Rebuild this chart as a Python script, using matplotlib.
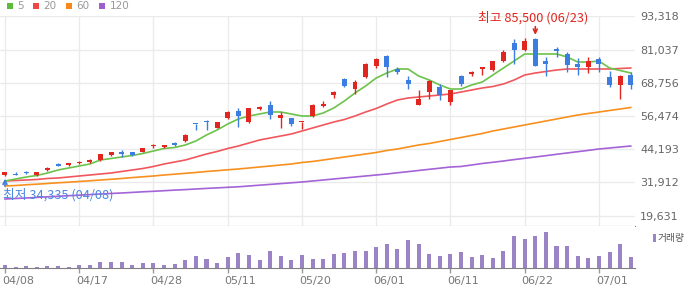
"""Daily candlestick chart with moving averages and a volume panel."""

import matplotlib

matplotlib.use("Agg")
import matplotlib.pyplot as plt
from matplotlib.patches import Rectangle
from matplotlib.ticker import FuncFormatter
from matplotlib.transforms import ScaledTranslation

KR_FONT = ["Noto Sans CJK KR", "DejaVu Sans"]

UP_COLOR = "#e0261f"
DOWN_COLOR = "#3b7de0"
VOLUME_COLOR = "#9b84c6"
GRID_COLOR = "#ebebeb"

# OHLC, one entry per trading day (04/08 .. 07/03)
OPENS = [34670, 35200, 35780, 34600, 36520, 38740, 38370, 39110, 39480, 40220,
         42070, 43100, 43300, 43180, 45400, 44900, 46500, 47250, 53540, 54500,
         52060, 55880, 58350, 54280, 59100, 60570, 55760, 55760, 54100, 56500,
         60200, 64270, 70190, 66490, 70930, 75000, 78700, 73890, 69820, 60570,
         65380, 67230, 61680, 71300, 72040, 74000, 73520, 76850, 83510, 80920,
         85000, 76850, 81300, 79440, 75740, 74630, 77590, 70930, 67970, 71670]
HIGHS = [35950, 35600, 36000, 35800, 37750, 39100, 39110, 39850, 40600, 42440,
         43180, 43900, 43300, 44770, 46140, 45800, 46900, 49900, 53600, 54900,
         54450, 58500, 59460, 59460, 60200, 62050, 57980, 55900, 54300, 60940,
         62050, 65750, 70560, 69820, 76110, 77960, 79070, 74630, 71300, 66120,
         69820, 68340, 66120, 71670, 73150, 74630, 77000, 80920, 85000, 85360,
         85500, 78330, 82000, 80180, 77960, 78330, 78330, 73150, 71670, 72780]
LOWS = [34335, 34500, 35150, 34450, 36270, 37900, 38000, 38740, 39110, 40000,
        41800, 41450, 41700, 43000, 44770, 44700, 45400, 46880, 51320, 51300,
        52060, 55400, 52430, 54000, 58900, 55390, 52060, 52800, 51600, 56130,
        59830, 63160, 67230, 64640, 70560, 74260, 70930, 72040, 66490, 60570,
        62790, 62420, 60570, 67600, 71300, 71670, 73300, 76480, 75740, 80550,
        75000, 71300, 78330, 72780, 71670, 72410, 72780, 67230, 62790, 66490]
CLOSES = [35780, 34700, 35400, 35750, 37260, 38000, 38930, 39300, 40220, 42440,
          43180, 42350, 42070, 44660, 45770, 45770, 45600, 49650, 53400, 54200,
          54400, 58100, 56500, 59460, 59830, 56870, 56870, 53540, 54280, 60570,
          60940, 65380, 67600, 69080, 75740, 77590, 74630, 72780, 68340, 62790,
          69450, 64270, 66120, 68340, 72780, 74600, 76850, 80180, 80920, 84250,
          75000, 75740, 80550, 75370, 74630, 76850, 75740, 67970, 71300, 67970]

MA5 = [32450, 33190, 33930, 34490, 35410, 36520, 37260, 38000, 38740, 40220,
       40780, 41330, 41890, 42630, 43550, 44480, 44850, 45770, 47250, 49470,
       51320, 53540, 55390, 56500, 57240, 57980, 57980, 57240, 56500, 56500,
       57610, 59460, 62050, 65010, 67600, 70560, 72410, 73890, 73890, 71300,
       69820, 67970, 66490, 66490, 67970, 69080, 71670, 74260, 76850, 79440,
       79440, 79440, 79440, 78330, 76480, 76480, 76850, 74260, 73340, 72410]
MA20 = [32450, 32640, 32820, 33010, 33380, 33560, 33930, 34300, 34670, 35040,
        35410, 35970, 36520, 37080, 37820, 38740, 39480, 40220, 41330, 42440,
        43370, 44480, 45400, 46510, 47620, 48360, 49100, 49840, 50950, 52060,
        53170, 54280, 55210, 56500, 57980, 59280, 60940, 62420, 63160, 63530,
        63900, 64270, 64640, 65380, 66120, 66860, 67420, 68340, 69820, 71670,
        72410, 72970, 73520, 73890, 73890, 73890, 73890, 73890, 74080, 74260]
MA60 = [30600, 30790, 31050, 31270, 31530, 31790, 32010, 32270, 32530, 32820,
        33080, 33380, 33710, 34010, 34300, 34670, 34970, 35300, 35600, 35970,
        36260, 36600, 36890, 37260, 37630, 38000, 38370, 38740, 39300, 39670,
        40220, 40780, 41330, 41890, 42440, 43000, 43740, 44290, 45030, 45770,
        46330, 47070, 47810, 48550, 49290, 50030, 50950, 51690, 52430, 53170,
        53910, 54650, 55390, 56130, 56870, 57430, 57980, 58540, 59090, 59650]
MA120 = [25790, 25980, 26160, 26380, 26610, 26790, 27010, 27200, 27420, 27640,
         27830, 28010, 28230, 28460, 28640, 28860, 29080, 29270, 29490, 29710,
         29900, 30120, 30310, 30600, 30900, 31190, 31490, 31790, 32080, 32450,
         32820, 33190, 33560, 33930, 34300, 34670, 35040, 35490, 35900, 36340,
         36780, 37190, 37630, 37820, 38370, 38930, 39370, 39850, 40370, 40850,
         41330, 41820, 42330, 42820, 43300, 43780, 44290, 44660, 45030, 45400]

# relative traded volume
VOLUMES = [3, 1, 2, 1, 2, 2, 1, 3, 3, 6, 6, 6, 3, 5, 5, 3, 4, 8, 12, 9,
           5, 11, 15, 13, 8, 17, 12, 8, 13, 9, 9, 14, 15, 17, 17, 21, 24, 19, 28, 24,
           14, 12, 14, 16, 11, 13, 10, 17, 32, 29, 32, 36, 22, 22, 12, 10, 12, 16, 24, 11]

TICK_INDEX = [0, 7, 14, 21, 28, 35, 42, 49, 56]
TICK_LABELS = ["04/08", "04/17", "04/28", "05/11", "05/20", "06/01", "06/11", "06/22", "07/01"]
PRICE_TICKS = [19631, 31912, 44193, 56474, 68756, 81037, 93318]

MA_LABELS = ["5", "20", "60", "120"]
MA_COLORS = ["#6cc24a", "#f0575d", "#f7901e", "#a463d6"]
LEGEND_COLORS = ["#5dbb3b", "#ef4646", "#f7891c", "#9b5fcf"]

HIGH_INDEX, HIGH_TEXT = 50, "최고 85,500 (06/23)"
LOW_INDEX, LOW_TEXT = 0, "최저 34,335 (04/08)"


def draw_price_panel(ax, x):
    for values, color in zip([MA120, MA60, MA20, MA5], MA_COLORS[::-1]):
        ax.plot(x, values, color=color, linewidth=1.2, zorder=2)

    colors = [UP_COLOR if c >= o else DOWN_COLOR for o, c in zip(OPENS, CLOSES)]
    bottoms = [min(o, c) for o, c in zip(OPENS, CLOSES)]
    heights = [max(abs(c - o), 370) for o, c in zip(OPENS, CLOSES)]
    ax.vlines(x, LOWS, HIGHS, colors=colors, linewidth=1, zorder=3)
    ax.bar(x, heights, width=0.47, bottom=bottoms, color=colors, linewidth=0, zorder=4)

    ax.set_ylim(15800, 93500)
    ax.set_yticks(PRICE_TICKS)
    ax.yaxis.tick_right()
    ax.yaxis.set_major_formatter(FuncFormatter(lambda v, _: f"{v:,.0f}"))
    ax.tick_params(axis="y", length=0, pad=3.6, labelsize=8, labelcolor="#666666")
    ax.tick_params(axis="x", length=0, labelbottom=False)
    ax.grid(color=GRID_COLOR, linewidth=1)
    ax.set_axisbelow(True)
    for side in ("top", "left", "right"):
        ax.spines[side].set_visible(False)
    ax.spines["bottom"].set_color("#808080")

    # high / low markers
    ax.annotate("", xy=(HIGH_INDEX, HIGHS[HIGH_INDEX]), xytext=(0, 11),
                textcoords="offset pixels",
                arrowprops=dict(arrowstyle="->", color=UP_COLOR, lw=1.2,
                                mutation_scale=7, shrinkA=0, shrinkB=2))
    ax.annotate(HIGH_TEXT, xy=(HIGH_INDEX, HIGHS[HIGH_INDEX]), xytext=(-2, 20),
                textcoords="offset pixels", ha="center", va="center",
                color=UP_COLOR, fontsize=9.2, family=KR_FONT)
    ax.annotate("", xy=(LOW_INDEX, LOWS[LOW_INDEX]), xytext=(0, -10),
                textcoords="offset pixels",
                arrowprops=dict(arrowstyle="->", color=DOWN_COLOR, lw=1.2,
                                mutation_scale=7, shrinkA=0, shrinkB=2))
    ax.annotate(LOW_TEXT, xy=(LOW_INDEX, LOWS[LOW_INDEX]), xytext=(-2, -19),
                textcoords="offset pixels", ha="left", va="center",
                color="#4a88e0", fontsize=9.2, family=KR_FONT)


def draw_volume_panel(ax, x):
    ax.bar(x, VOLUMES, width=0.38, color=VOLUME_COLOR, linewidth=0)
    ax.set_ylim(0, 42)
    ax.set_yticks([])
    ax.set_xticks(TICK_INDEX)
    ax.set_xticklabels(TICK_LABELS)
    ax.tick_params(axis="x", length=3.6, width=1, color="#999999", pad=2,
                   labelsize=8, labelcolor="#777777")
    # labels start just left of their tick, as in the source chart
    shift = ScaledTranslation(-3 / 100, 0, ax.figure.dpi_scale_trans)
    for label in ax.get_xticklabels():
        label.set_horizontalalignment("left")
        label.set_transform(label.get_transform() + shift)
    for side in ("top", "left", "right"):
        ax.spines[side].set_visible(False)
    ax.spines["bottom"].set_color("#808080")


def draw_legends(fig):
    W, H = 700, 289
    positions = [(7, 17), (33, 43), (66, 76), (99, 110)]
    for (sx, tx), label, color in zip(positions, MA_LABELS, LEGEND_COLORS):
        fig.add_artist(Rectangle((sx / W, 1 - 9 / H), 6 / W, 6 / H,
                                 transform=fig.transFigure, color=color, linewidth=0))
        fig.text(tx / W, 1 - 6 / H, label, ha="left", va="center",
                 fontsize=7.5, color="#999999")

    fig.add_artist(Rectangle((653 / W, 1 - 242 / H), 3 / W, 8 / H,
                             transform=fig.transFigure, color=VOLUME_COLOR, linewidth=0))
    fig.text(658 / W, 1 - 238 / H, "거래량", ha="left", va="center",
             fontsize=7, color="#555555", family=KR_FONT)


def main():
    x = list(range(len(CLOSES)))
    fig = plt.figure(figsize=(7.0, 2.89), dpi=100)
    ax = fig.add_axes([0, 63 / 289, 635 / 700, 210 / 289])
    axv = fig.add_axes([0, 21 / 289, 635 / 700, 42 / 289], sharex=ax)

    draw_price_panel(ax, x)
    draw_volume_panel(axv, x)
    ax.set_xlim(-0.47, 59.4)
    ax.set_xticks(TICK_INDEX)
    draw_legends(fig)

    fig.savefig("out.png", dpi=100)
    plt.close(fig)


if __name__ == "__main__":
    main()
